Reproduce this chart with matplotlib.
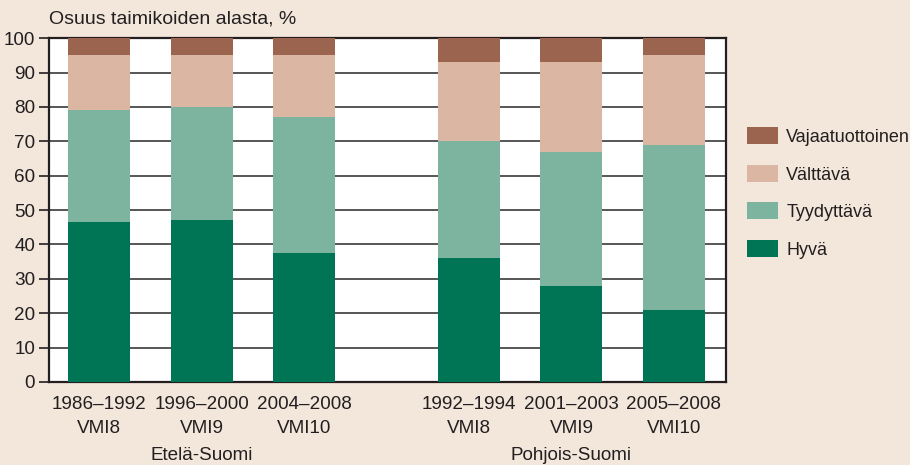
import numpy as np
import matplotlib
matplotlib.use("Agg")
import matplotlib.pyplot as plt

plt.rcParams['font.family'] = ['Liberation Sans', 'DejaVu Sans']

# jaksot ja alueet
kaudet = ["1986–1992\nVMI8", "1996–2000\nVMI9", "2004–2008\nVMI10",
          "1992–1994\nVMI8", "2001–2003\nVMI9", "2005–2008\nVMI10"]
alueet = ["Etelä-Suomi", "Pohjois-Suomi"]

# osuudet, %
hyva = [46.5, 47.0, 37.5, 36.0, 28.0, 21.0]
tyydyttava = [32.5, 33.0, 39.5, 34.0, 39.0, 48.0]
valttava = [16.0, 15.0, 18.0, 23.0, 26.0, 26.0]
vajaatuottoinen = [5.0, 5.0, 5.0, 7.0, 7.0, 5.0]

sarjat = ["Hyvä", "Tyydyttävä", "Välttävä", "Vajaatuottoinen"]
varit = ["#007556", "#7db4a0", "#dab6a3", "#9a644f"]

tausta = "#f3e6db"
fig = plt.figure(figsize=(9.1, 4.65), dpi=100, facecolor=tausta)
ax = fig.add_axes([0.0538, 0.1785, 0.7442, 0.7395])
ax.set_facecolor("white")

x = np.array([0, 1, 2, 3.61, 4.61, 5.61])
leveys = 0.605

pohja = np.zeros(len(x))
palkit = []
for arvot, nimi, vari in zip([hyva, tyydyttava, valttava, vajaatuottoinen], sarjat, varit):
    b = ax.bar(x, arvot, leveys, bottom=pohja, color=vari, label=nimi, zorder=3)
    palkit.append(b)
    pohja = pohja + np.array(arvot)

ax.set_ylim(0, 100)
ax.set_xlim(-0.49, 6.12)
ax.set_yticks(range(0, 101, 10))
ax.yaxis.grid(True, color="#3a3a3a", linewidth=1.2, zorder=1)
ax.tick_params(axis="y", length=7, width=1.2, pad=3, labelsize=13.6, colors="#231f20")
ax.tick_params(axis="x", length=0, pad=10, labelsize=13.6, colors="#231f20")
ax.set_xticks(x)
ax.set_xticklabels(kaudet, linespacing=1.55)
for s in ax.spines.values():
    s.set_color("#231f20")
    s.set_linewidth(1.6)

# alueiden nimet keskimmäisen palkin alle
ax.text(x[1], -0.214, alueet[0], transform=ax.get_xaxis_transform(),
        ha="center", va="center", fontsize=13.6, color="#231f20")
ax.text(x[4], -0.214, alueet[1], transform=ax.get_xaxis_transform(),
        ha="center", va="center", fontsize=13.6, color="#231f20")

fig.text(49 / 910, 1 - 19 / 465, "Osuus taimikoiden alasta, %", ha="left", va="center",
         fontsize=14, color="#231f20")

kahvat = palkit[::-1]
fig.legend(kahvat, sarjat[::-1], loc="center left", bbox_to_anchor=(747 / 910, 1 - 193 / 465),
           frameon=False, fontsize=13, handlelength=1.72, handleheight=1.05,
           handletextpad=0.45, labelspacing=1.05, borderpad=0, borderaxespad=0,
           labelcolor="#231f20")

plt.savefig("out.png", dpi=100, facecolor=tausta)
